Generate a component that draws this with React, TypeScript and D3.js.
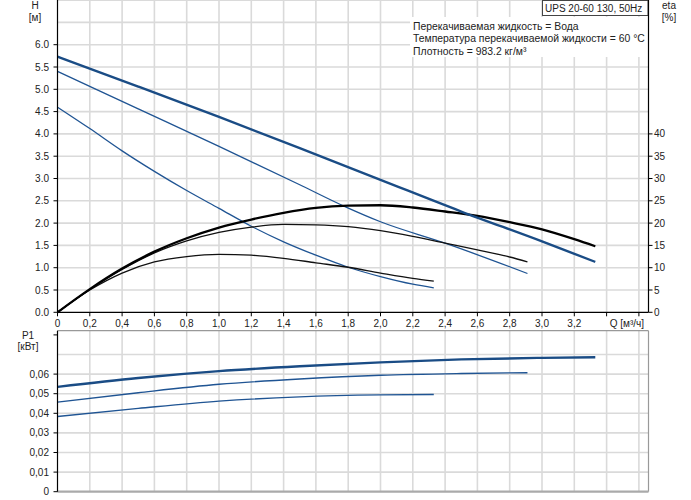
import React from "react";
import * as d3 from "d3";

// ---- data ----
const qTicks = [0, 0.2, 0.4, 0.6, 0.8, 1.0, 1.2, 1.4, 1.6, 1.8, 2.0, 2.2, 2.4, 2.6, 2.8, 3.0, 3.2];
const qGrid = [0.2, 0.4, 0.6, 0.8, 1.0, 1.2, 1.4, 1.6, 1.8, 2.0, 2.2, 2.4, 2.6, 2.8, 3.0, 3.2, 3.4, 3.6];
const hTicks = [0, 0.5, 1, 1.5, 2, 2.5, 3, 3.5, 4, 4.5, 5, 5.5, 6];
const hGrid = [0.5, 1, 1.5, 2, 2.5, 3, 3.5, 4, 4.5, 5, 5.5, 6, 6.5, 7];
const etaTicks = [0, 5, 10, 15, 20, 25, 30, 35, 40];
const pTicks = [0, 0.01, 0.02, 0.03, 0.04, 0.05, 0.06];
const pGrid = [0.01, 0.02, 0.03, 0.04, 0.05, 0.06, 0.07];

// QH curves [Q, H]
const qh3: [number, number][] = [[0, 5.73], [0.5, 5.06], [1.0, 4.38], [1.5, 3.68], [2.0, 2.97], [2.5, 2.26], [3.0, 1.59], [3.33, 1.13]];
const qh2: [number, number][] = [[0, 5.40], [0.5, 4.56], [1.0, 3.72], [1.5, 2.86], [1.78, 2.37], [2.0, 2.03], [2.4, 1.55], [2.91, 0.87]];
const qh1: [number, number][] = [[0, 4.60], [0.2, 4.12], [0.4, 3.62], [0.6, 3.16], [0.8, 2.73], [1.0, 2.33], [1.2, 1.93], [1.4, 1.58], [1.6, 1.28], [1.8, 1.01], [2.0, 0.80], [2.2, 0.63], [2.33, 0.55]];

// efficiency curves [Q, eta %]
const eta3: [number, number][] = [[0, 0], [0.2, 5.2], [0.4, 9.8], [0.6, 13.6], [0.8, 16.6], [1.0, 19.0], [1.2, 20.8], [1.4, 22.3], [1.6, 23.4], [1.8, 23.9], [2.0, 24.0], [2.2, 23.5], [2.4, 22.6], [2.6, 21.6], [2.8, 20.2], [3.0, 18.6], [3.2, 16.4], [3.33, 14.8]];
const eta2: [number, number][] = [[0, 0], [0.2, 5.1], [0.4, 9.6], [0.6, 13.3], [0.8, 16.0], [1.0, 17.9], [1.2, 19.1], [1.4, 19.7], [1.6, 19.6], [1.8, 19.2], [2.0, 18.3], [2.2, 17.0], [2.4, 15.5], [2.6, 14.0], [2.8, 12.4], [2.91, 11.3]];
const eta1: [number, number][] = [[0, 0], [0.2, 5.0], [0.4, 8.8], [0.6, 11.3], [0.8, 12.5], [1.0, 13.0], [1.2, 12.8], [1.4, 12.1], [1.6, 11.1], [1.8, 10.1], [2.0, 8.8], [2.2, 7.6], [2.33, 7.0]];

// power curves [Q, P1 kW]
const p3: [number, number][] = [[0, 0.0535], [0.5, 0.058], [1.0, 0.0615], [1.5, 0.064], [2.0, 0.066], [2.5, 0.0675], [3.0, 0.0683], [3.33, 0.0686]];
const p2: [number, number][] = [[0, 0.0457], [0.5, 0.0505], [1.0, 0.0548], [1.5, 0.0575], [2.0, 0.0594], [2.5, 0.0603], [2.91, 0.0607]];
const p1: [number, number][] = [[0, 0.0384], [0.5, 0.0425], [1.0, 0.0462], [1.5, 0.0484], [2.0, 0.0494], [2.33, 0.0496]];

const infoLines = [
  "Перекачиваемая жидкость = Вода",
  "Температура перекачиваемой жидкости = 60 °C",
  "Плотность = 983.2 кг/м³",
];
const title = "UPS 20-60 130, 50Hz";

export default function App() {
  const W = 691, H = 500;
  const x0 = 57.5, xR = 648.5;
  const x = d3.scaleLinear().domain([0, 3.6]).range([x0, x0 + 3.6 * 161.5]);
  const yH = d3.scaleLinear().domain([0, 7]).range([312.3, 0.1]);
  const yE = d3.scaleLinear().domain([0, 70]).range([312.3, 0.1]);
  const yP = d3.scaleLinear().domain([0, 0.08]).range([491.7, 334.9]);
  const botTop = 330.7;

  const lineH = d3.line<[number, number]>().x(d => x(d[0])).y(d => yH(d[1])).curve(d3.curveMonotoneX);
  const lineE = d3.line<[number, number]>().x(d => x(d[0])).y(d => yE(d[1])).curve(d3.curveMonotoneX);
  const lineP = d3.line<[number, number]>().x(d => x(d[0])).y(d => yP(d[1])).curve(d3.curveMonotoneX);

  const font = "'Liberation Sans', Arial, sans-serif";
  const txt = "#222";
  const grid = "#dadada";
  const blue = "#1f5493";
  const fmtQ = (v: number) => (v === 0 ? "0" : v.toFixed(1).replace(".", ","));
  const fmtP = (v: number) => (v === 0 ? "0" : v.toFixed(2).replace(".", ","));

  return (
    <svg width={W} height={H} style={{ position: "absolute", left: 0, top: 0, background: "#fff" }} fontFamily={font} fontSize={10}>
      <rect x={0} y={0} width={W} height={H} fill="#fff" />
      {/* ---- top panel grid ---- */}
      {qGrid.map(v => (
        <line key={"vg" + v} x1={x(v)} x2={x(v)} y1={0} y2={yH(0)} stroke={grid} strokeWidth={1.6} />
      ))}
      {hGrid.map(v => (
        <line key={"hg" + v} x1={x0} x2={xR} y1={yH(v)} y2={yH(v)} stroke={grid} strokeWidth={1.6} />
      ))}
      {/* info block background */}
      <rect x={410} y={17} width={238} height={40} fill="#fff" />
      {infoLines.map((t, i) => (
        <text key={t} x={413} y={29.5 + i * 12.7} fill={txt} fontSize={10.4}>{t}</text>
      ))}
      <rect x={542.5} y={0.5} width={105.5} height={15} fill="#fff" stroke="#444" strokeWidth={1} />
      <text x={545} y={12} fill={txt}>{title}</text>

      {/* curves top */}
      <path d={lineH(qh1) || ""} fill="none" stroke={blue} strokeWidth={1.3} />
      <path d={lineH(qh2) || ""} fill="none" stroke={blue} strokeWidth={1.3} />
      <path d={lineE(eta1) || ""} fill="none" stroke="#111" strokeWidth={1.3} />
      <path d={lineE(eta2) || ""} fill="none" stroke="#111" strokeWidth={1.3} />
      <path d={lineE(eta3) || ""} fill="none" stroke="#000" strokeWidth={2.3} />
      <path d={lineH(qh3) || ""} fill="none" stroke="#1a4c85" strokeWidth={2.4} />

      {/* axes top */}
      <line x1={x0} x2={x0} y1={0} y2={yH(0)} stroke="#000" strokeWidth={1.2} />
      <line x1={x0} x2={xR} y1={yH(0)} y2={yH(0)} stroke="#000" strokeWidth={1.2} />
      <line x1={xR} x2={xR} y1={yH(0)} y2={yH(7)} stroke="#000" strokeWidth={1.2} />
      {hTicks.map(v => (
        <g key={"ht" + v}>
          <line x1={x0 - 4} x2={x0} y1={yH(v)} y2={yH(v)} stroke="#000" />
          <text x={49} y={yH(v) + 3.5} textAnchor="end" fill={txt}>{v.toFixed(1)}</text>
        </g>
      ))}
      {etaTicks.map(v => (
        <g key={"et" + v}>
          <line x1={xR} x2={xR + 4} y1={yE(v)} y2={yE(v)} stroke="#000" />
          <text x={654} y={yE(v) + 3.5} fill={txt}>{v}</text>
        </g>
      ))}
      {qGrid.concat([0]).map(v => (
        <line key={"qt" + v} x1={x(v)} x2={x(v)} y1={yH(0)} y2={yH(0) + 4} stroke="#000" />
      ))}
      {qTicks.map(v => (
        <text key={"ql" + v} x={x(v)} y={327} textAnchor="middle" fill={txt}>{fmtQ(v)}</text>
      ))}
      <text x={x(3.6) - 12} y={327} textAnchor="middle" fill={txt}>Q [м³/ч]</text>
      <text x={35} y={9} textAnchor="middle" fill={txt}>H</text>
      <text x={35} y={21} textAnchor="middle" fill={txt}>[м]</text>
      <text x={669} y={9} textAnchor="middle" fill={txt}>eta</text>
      <text x={669} y={21} textAnchor="middle" fill={txt}>[%]</text>

      {/* ---- bottom panel ---- */}
      {qGrid.map(v => (
        <line key={"bvg" + v} x1={x(v)} x2={x(v)} y1={botTop} y2={yP(0)} stroke={grid} strokeWidth={1.6} />
      ))}
      {pGrid.map(v => (
        <line key={"bhg" + v} x1={x0} x2={xR} y1={yP(v)} y2={yP(v)} stroke={grid} strokeWidth={1.6} />
      ))}
      <path d={lineP(p1) || ""} fill="none" stroke={blue} strokeWidth={1.4} />
      <path d={lineP(p2) || ""} fill="none" stroke={blue} strokeWidth={1.4} />
      <path d={lineP(p3) || ""} fill="none" stroke="#1a4c85" strokeWidth={2.4} />
      <line x1={x0} x2={xR} y1={botTop} y2={botTop} stroke="#999" strokeWidth={1.2} />
      <line x1={xR} x2={xR} y1={botTop} y2={yP(0)} stroke="#999" strokeWidth={1.2} />
      <line x1={x0} x2={xR} y1={yP(0)} y2={yP(0)} stroke="#aaa" strokeWidth={2.2} />
      <line x1={x0} x2={x0} y1={botTop} y2={yP(0)} stroke="#000" strokeWidth={1.2} />
      {pTicks.concat([0.08]).map(v => (
        <line key={"pt" + v} x1={x0 - 4} x2={x0} y1={yP(v)} y2={yP(v)} stroke="#000" />
      ))}
      {pTicks.map(v => (
        <text key={"pl" + v} x={49} y={yP(v) + 3.5} textAnchor="end" fill={txt}>{fmtP(v)}</text>
      ))}
      <text x={28} y={339} textAnchor="middle" fill={txt}>P1</text>
      <text x={28} y={350} textAnchor="middle" fill={txt}>[кВт]</text>
    </svg>
  );
}
